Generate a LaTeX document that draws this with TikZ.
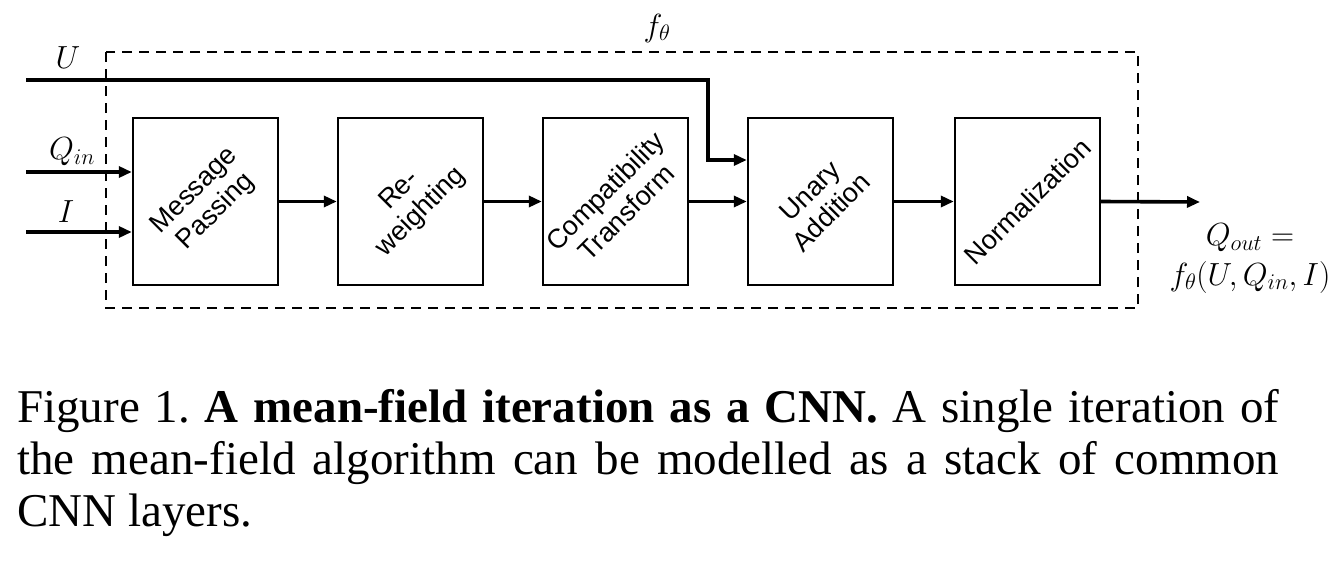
\RequirePackage{fix-cm}
\documentclass[tikz,border=0pt]{standalone}
\usepackage{fontspec}
\setmainfont{Liberation Serif}
\setsansfont{Liberation Sans}
\usetikzlibrary{arrows.meta}
\begin{document}
\frenchspacing
\begin{tikzpicture}[x=1pt,y=-1pt,
  layer/.style={draw,line width=2.4pt,minimum width=145pt,minimum height=167pt,inner sep=0pt},
  ltext/.style={font=\sffamily\fontsize{27}{30}\selectfont,rotate=45,align=center,inner sep=0pt},
  flow/.style={line width=3.6pt,-{Triangle[length=13pt,width=11pt]}},
  plain/.style={line width=3.6pt},
  mlabel/.style={font=\fontsize{32}{36}\selectfont,inner sep=0pt}]
\useasboundingbox (0,0) rectangle (1336,562);
% dashed frame
\draw[line width=2.2pt,dash pattern=on 10pt off 7pt] (106,52) rectangle (1138,308);
% boxes
\node[layer] (b1) at (205.5,201.5) {};
\node[layer] (b2) at (410.5,201.5) {};
\node[layer] (b3) at (615.5,201.5) {};
\node[layer] (b4) at (820.5,201.5) {};
\node[layer] (b5) at (1027.5,201.5) {};
\node[ltext] (t1) at (b1.center) {Message\\Passing};
\node[ltext] (t2) at (b2.center) {Re-\\weighting};
\node[ltext] (t3) at (b3.center) {Compatibility\\Transform};
\node[ltext] (t4) at (b4.center) {Unary\\Addition};
\node[ltext] (t5) at (b5.center) {Normalization};
% inputs
\coordinate (us) at (26,80);
\coordinate (ub) at (708,80);
\coordinate (ud) at (708,160);
\coordinate (qs) at (26,172);
\coordinate (is) at (26,232);
\coordinate (out) at (1200,202);
\draw[plain] (us) -- (ub) -- (ud);
\draw[flow] ([xshift=-1.8pt]ud) -- (b4.west |- ud);
\draw[flow] (qs) -- (b1.west |- qs);
\draw[flow] (is) -- (b1.west |- is);
\draw[flow] (b1.east) -- (b2.west);
\draw[flow] (b2.east) -- (b3.west);
\draw[flow] (b3.east) -- (b4.west);
\draw[flow] (b4.east) -- (b5.west);
\draw[flow] (b5.east) -- (out);
% labels
\node[mlabel] (lu) at (68,58) {$U$};
\node[mlabel] (lq) at (72,152) {$Q_{in}$};
\node[mlabel] (li) at (66,212) {$I$};
\node[mlabel] (lf) at (657,28) {$f_\theta$};
\node[mlabel] (lo1) at (1250,238) {$Q_{out}=$};
\node[mlabel] (lo2) at (1250,277) {$f_\theta(U,Q_{in},I)$};
% caption
\node[anchor=north west,inner sep=0pt,text width=1262pt,align=justify,
  font=\fontsize{47}{52}\selectfont] (cap) at (17,389)
  {Figure 1. \textbf{A mean-field iteration as a CNN.} A single iteration of\linebreak
   the mean-field algorithm can be modelled as a stack of common\linebreak
   CNN layers.};
\end{tikzpicture}
\end{document}
